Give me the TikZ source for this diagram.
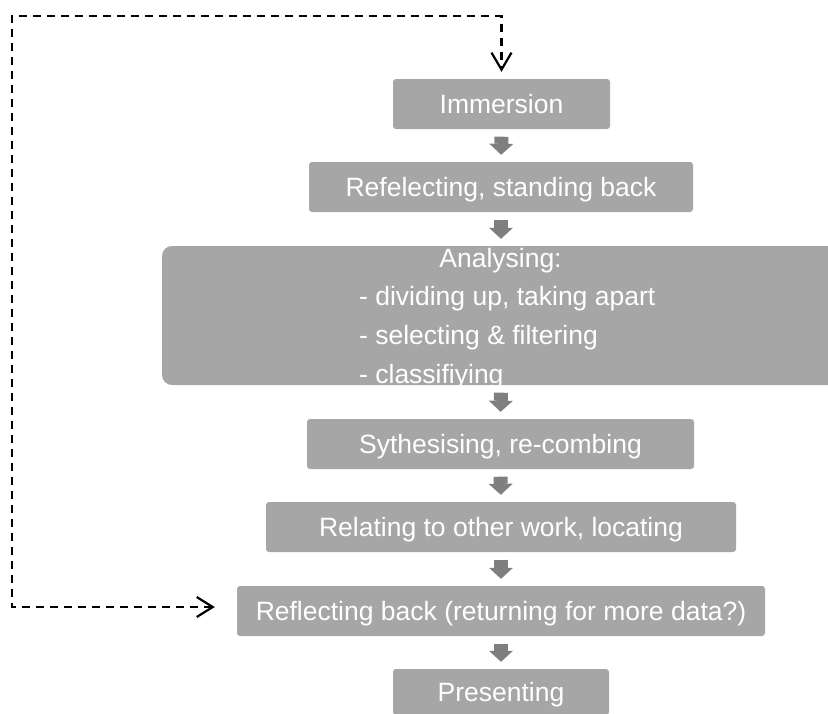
\documentclass[tikz,border=0pt]{standalone}
\usepackage{fontspec}
\setmainfont{Liberation Sans}
\usetikzlibrary{arrows.meta}
\definecolor{boxgray}{HTML}{A6A6A6}
\definecolor{arrowgray}{HTML}{7F7F7F}
\begin{document}
\begin{tikzpicture}[x=1pt,y=-1pt,
  stepbox/.style={fill=boxgray, rounded corners=3pt, inner sep=0pt,
    text=white, font=\fontsize{26.5}{30}\selectfont,
    text height=19pt, text depth=0pt},
  steptext/.style={inner sep=0pt, text=white, font=\fontsize{26.5}{30}\selectfont},
  blockarrow/.style={draw=arrowgray, line width=14pt,
    -{Triangle[length=11pt,width=24pt,line width=0pt]},
    shorten <=7.5pt, shorten >=7pt},
  loopback/.style={draw=black, line width=2.2pt, dash pattern=on 8pt off 6pt,
    {Straight Barb[length=16pt,width=20pt]}-{Straight Barb[length=17pt,width=20pt]},
    shorten <=22pt, shorten >=7pt}
]
\useasboundingbox (0,0) rectangle (828,713);

% process steps
\node[stepbox, minimum width=217pt, minimum height=50pt] (immersion) at (501.5,104) {Immersion};
\node[stepbox, minimum width=384pt, minimum height=50pt] (standback) at (501,187) {Refelecting, standing back};
\node[stepbox, rounded corners=10pt, minimum width=678pt, minimum height=139pt] (analysing) at (501,315.5) {};
\node[stepbox, minimum width=387pt, minimum height=50pt] (synth) at (500.5,444) {Sythesising, re-combing};
\node[stepbox, minimum width=470pt, minimum height=50pt] (relating) at (501,527) {Relating to other work, locating};
\node[stepbox, minimum width=528pt, minimum height=50pt] (reflectback) at (501,611) {Reflecting back (returning for more data?)};
\node[stepbox, minimum width=216pt, minimum height=46pt] (presenting) at (501,692) {Presenting};

% contents of the analysing step
\node[steptext, anchor=base] (atitle) at (500.5,267) {Analysing:};
\node[steptext, anchor=base west] (aone) at (359,305.5) {- dividing up, taking apart};
\node[steptext, anchor=base west] (atwo) at (359,344.5) {- selecting \& filtering};
\node[steptext, anchor=base west] (athree) at (359,383.5) {- classifiying};

% block arrows between the steps
\draw[blockarrow] (immersion.south) -- (standback.north);
\draw[blockarrow] (standback.south) -- (analysing.north);
\draw[blockarrow] (analysing.south) -- (synth.north);
\draw[blockarrow] (synth.south) -- (relating.north);
\draw[blockarrow] (relating.south) -- (reflectback.north);
\draw[blockarrow] (reflectback.south) -- (presenting.north);

% dashed loop back to the start
\coordinate (corner) at (12,16);
\draw[loopback] ([yshift=4pt]reflectback.west) -| (corner) -| (immersion.north);
\end{tikzpicture}
\end{document}
